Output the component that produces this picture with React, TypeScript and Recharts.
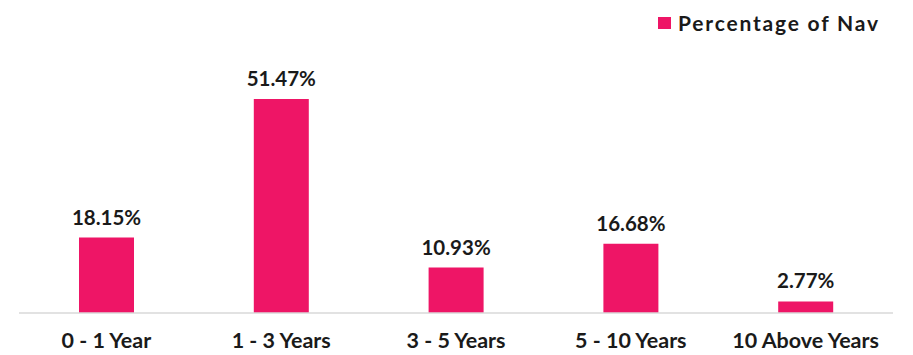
import React from "react";
import { BarChart, Bar, XAxis, YAxis, LabelList } from "recharts";

const categories = ["0 - 1 Year", "1 - 3 Years", "3 - 5 Years", "5 - 10 Years", "10 Above Years"];
const navValues = [18.15, 51.47, 10.93, 16.68, 2.77];
const seriesName = "Percentage of Nav";

const data = categories.map((c, i) => ({ name: c, value: navValues[i] }));

const BAR_COLOR = "#EE1566";
const FONT = "Lato, 'Noto Sans', sans-serif";

export default function App() {
  return (
    <div style={{ position: "absolute", left: 0, top: 0, width: 913, height: 355, background: "#fff" }}>
      <BarChart width={913} height={355} data={data} margin={{ top: 63.5, right: 20, left: 19, bottom: 12 }}>
        <XAxis
          dataKey="name"
          axisLine={{ stroke: "#d9d9d9", strokeWidth: 1.5 }}
          tickLine={false}
          tickSize={0}
          tickMargin={20}
          height={30}
          interval={0}
          tick={{ fontFamily: FONT, fontWeight: 700, fontSize: 21.5, fill: "#1a1a1a" }}
        />
        <YAxis hide domain={[0, 60]} />
        <Bar dataKey="value" name={seriesName} fill={BAR_COLOR} barSize={55} isAnimationActive={false}>
          <LabelList
            dataKey="value"
            position="top"
            offset={13}
            formatter={(v: number) => `${v.toFixed(2)}%`}
            style={{ fontFamily: FONT, fontWeight: 700, fontSize: 20.5, fill: "#1a1a1a" }}
          />
        </Bar>
      </BarChart>
      <div
        style={{
          position: "absolute",
          top: 10,
          left: 658,
          display: "flex",
          alignItems: "center",
          fontFamily: FONT,
          fontWeight: 700,
          fontSize: 21,
          color: "#1a1a1a",
          letterSpacing: 1.8,
          whiteSpace: "nowrap",
        }}
      >
        <span style={{ display: "inline-block", width: 13, height: 12, background: BAR_COLOR, marginRight: 7 }} />
        <span>{seriesName}</span>
      </div>
    </div>
  );
}
